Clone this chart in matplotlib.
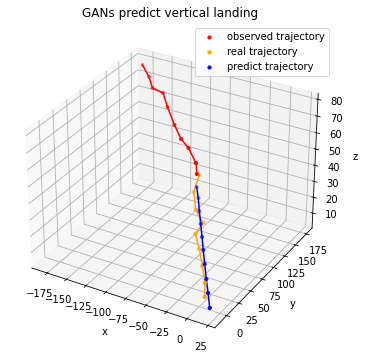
import numpy as np
import matplotlib
matplotlib.use('Agg')
import matplotlib.pyplot as plt

# observed
obs_x = [-179.9, -166.7, -156.7, -145.0, -132.3, -115.3, -101.2, -89.6, -74.4, -67.0]
obs_y = [174.8, 167.4, 158.7, 161.8, 150.9, 137.9, 128.7, 125.2, 115.9, 105.7]
obs_z = [77.8, 73.7, 70.2, 67.9, 63.4, 57.7, 53.2, 50.1, 45.3, 42.2]
# real
real_x = [-64.5, -58.9, -46.9, -33.5, -33.4, -21.8, -10.0, 1.5, 8.8]
real_y = [106.5, 85.7, 70.0, 62.8, 47.0, 35.9, 22.6, 8.8, -3.9]
real_z = [41.7, 37.5, 32.5, 28.4, 26.1, 21.8, 17.2, 12.6, 9.0]
# predict
pred_x = [-59.5, -51.7, -43.4, -34.7, -26.3, -18.0, -9.1, 0.4, 9.4, 18.7]
pred_y = [92.8, 83.2, 71.6, 60.2, 48.9, 37.7, 25.8, 13.3, 1.8, -10.3]
pred_z = [38.7, 35.5, 31.9, 28.4, 24.8, 21.3, 17.5, 13.5, 9.8, 5.9]

W, H = 365, 360
fig = plt.figure(figsize=(W / 72, H / 72), dpi=72)
ax = fig.add_axes([0.01975, 0.03239, 0.89266, 0.90505], projection='3d')
ax.plot(obs_x, obs_y, obs_z, color='red')
ax.scatter(obs_x, obs_y, obs_z, color='red', s=10, label='observed trajectory')
ax.plot(real_x, real_y, real_z, color='orange')
ax.scatter(real_x, real_y, real_z, color='orange', s=10, label='real trajectory')
ax.plot(pred_x, pred_y, pred_z, color='blue')
ax.scatter(pred_x, pred_y, pred_z, color='blue', s=10, label='predict trajectory')
ax.set_xlim(-195, 33)
ax.set_ylim(-24, 189)
ax.set_zlim(0.4, 83.5)
ax.set_xlabel('x')
ax.set_ylabel('y')
ax.set_zlabel('z')
ax.legend(loc='upper right', bbox_to_anchor=(329 / W, 1 - 28 / H), bbox_transform=fig.transFigure, borderaxespad=0)
fig.text(170 / W, 1 - 13 / H, 'GANs predict vertical landing', ha='center', va='center', fontsize=12)
plt.savefig('out.png', dpi=72)
